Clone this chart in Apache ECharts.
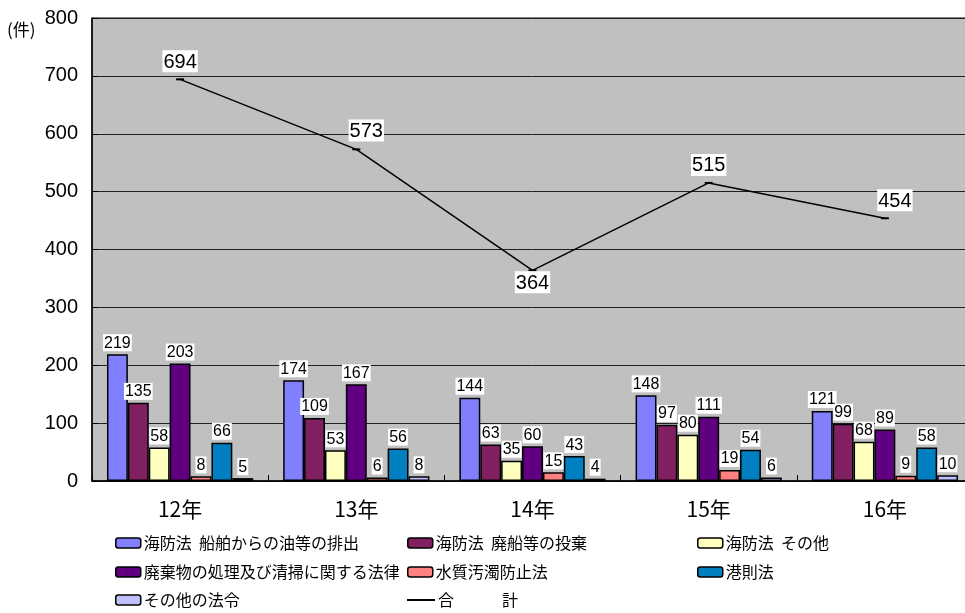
<!DOCTYPE html>
<html>
<head>
<meta charset="utf-8">
<script src="https://cdn.jsdelivr.net/npm/echarts@6/dist/echarts.min.js"></script>
<style>html,body{margin:0;padding:0;background:#fff;overflow:hidden;}#c{width:973px;height:613px;}</style>
</head>
<body>
<div id="c"></div>
<script>
var categories = ['12年', '13年', '14年', '15年', '16年'];
var seriesNames = ['海防法  船舶からの油等の排出', '海防法  廃船等の投棄', '海防法  その他', '廃棄物の処理及び清掃に関する法律', '水質汚濁防止法', '港則法', 'その他の法令'];
var s1 = [219, 174, 144, 148, 121];
var s2 = [135, 109, 63, 97, 99];
var s3 = [58, 53, 35, 80, 68];
var s4 = [203, 167, 60, 111, 89];
var s5 = [8, 6, 15, 19, 9];
var s6 = [66, 56, 43, 54, 58];
var s7 = [5, 8, 4, 6, 10];
var totalName = '合　　　計';
var totals = [694, 573, 364, 515, 454];
var yTicks = [0, 100, 200, 300, 400, 500, 600, 700, 800];

var colors = ['#8080FF', '#802060', '#FFFFC0', '#600080', '#FF8080', '#0080C0', '#C0C0FF'];
var FONT = '"Liberation Sans", Arial, sans-serif';
var JFONT = '"Noto Sans CJK JP", sans-serif';
var barData = [s1, s2, s3, s4, s5, s6, s7];

var series = barData.map(function (d, i) {
  return {
    name: seriesNames[i],
    type: 'bar',
    data: d,
    barGap: '0%',
    barCategoryGap: '17%',
    itemStyle: { color: colors[i], borderColor: '#000', borderWidth: 1.5 },
    label: {
      show: true, position: 'top', distance: 3,
      color: '#000', fontSize: 16, fontFamily: FONT,
      backgroundColor: '#fff', padding: [1, 1, 0, 1]
    },
    emphasis: { disabled: true },
    z: 2
  };
});

var lineLabelOffsets = [[0, 0], [10, 0], [0, 0], [0, 0], [10, 0]];
var lineLabelPos = ['top', 'top', 'bottom', 'top', 'top'];
var lineLabelDist = [6, 7, 0, 6, 6];
series.push({
  name: totalName,
  type: 'line',
  data: totals.map(function (v, i) {
    return {
      value: v,
      label: { position: lineLabelPos[i], offset: lineLabelOffsets[i], distance: lineLabelDist[i] }
    };
  }),
  symbol: 'rect',
  symbolSize: [8, 2],
  lineStyle: { color: '#000', width: 1.5 },
  itemStyle: { color: '#000' },
  label: {
    show: true, color: '#000', fontSize: 20, fontFamily: FONT,
    backgroundColor: '#fff', padding: [2, 1, 0, 1]
  },
  emphasis: { disabled: true },
  z: 5
});

function mkLegend(name, left, top, isLine) {
  return {
    data: [isLine ? { name: name, icon: 'rect' } : name],
    left: left, top: top,
    padding: 0,
    itemWidth: isLine ? 28 : 25,
    itemHeight: isLine ? 2 : 10,
    itemGap: 4,
    selectedMode: false,
    textStyle: { fontSize: 16, fontFamily: JFONT, color: '#000', padding: [0, 0, 0, -2] },
    itemStyle: isLine ? { color: '#000', borderWidth: 0 } : { borderColor: '#000', borderWidth: 1.5 }
  };
}
var colX = [115, 407, 697];
var rowY = [535, 564, 592];
var legends = [
  mkLegend(seriesNames[0], colX[0], rowY[0]),
  mkLegend(seriesNames[1], colX[1], rowY[0]),
  mkLegend(seriesNames[2], colX[2], rowY[0]),
  mkLegend(seriesNames[3], colX[0], rowY[1]),
  mkLegend(seriesNames[4], colX[1], rowY[1]),
  mkLegend(seriesNames[5], colX[2], rowY[1]),
  mkLegend(seriesNames[6], colX[0], rowY[2]),
  mkLegend(totalName, colX[1], rowY[2], true)
];

var chart = echarts.init(document.getElementById('c'), null, { renderer: 'canvas' });
chart.setOption({
  animation: false,
  backgroundColor: '#fff',
  grid: {
    left: 92, right: 0, top: 18, bottom: 132,
    show: true, backgroundColor: '#C0C0C0', borderColor: '#000', borderWidth: 1
  },
  legend: legends,
  xAxis: {
    type: 'category',
    data: categories,
    boundaryGap: true,
    axisLine: { show: true, lineStyle: { color: '#000', width: 1.5 } },
    axisTick: { show: true, inside: true, length: 6, lineStyle: { color: '#000' } },
    axisLabel: { color: '#000', fontSize: 21, fontFamily: JFONT, margin: 18 }
  },
  yAxis: {
    type: 'value',
    min: yTicks[0], max: yTicks[yTicks.length - 1], interval: 100,
    axisLine: { show: true, lineStyle: { color: '#000', width: 1.5 } },
    axisTick: { show: true, inside: true, length: 6, lineStyle: { color: '#000' } },
    axisLabel: { color: '#000', fontSize: 20, fontFamily: FONT, margin: 14 },
    splitLine: { show: true, lineStyle: { color: '#202020', width: 1 } }
  },
  graphic: [{
    type: 'text', left: 7, top: 21,
    style: { text: '(件)', fill: '#000', font: '17px "Noto Sans CJK JP", sans-serif' }
  }],
  series: series
});
</script>
</body>
</html>
